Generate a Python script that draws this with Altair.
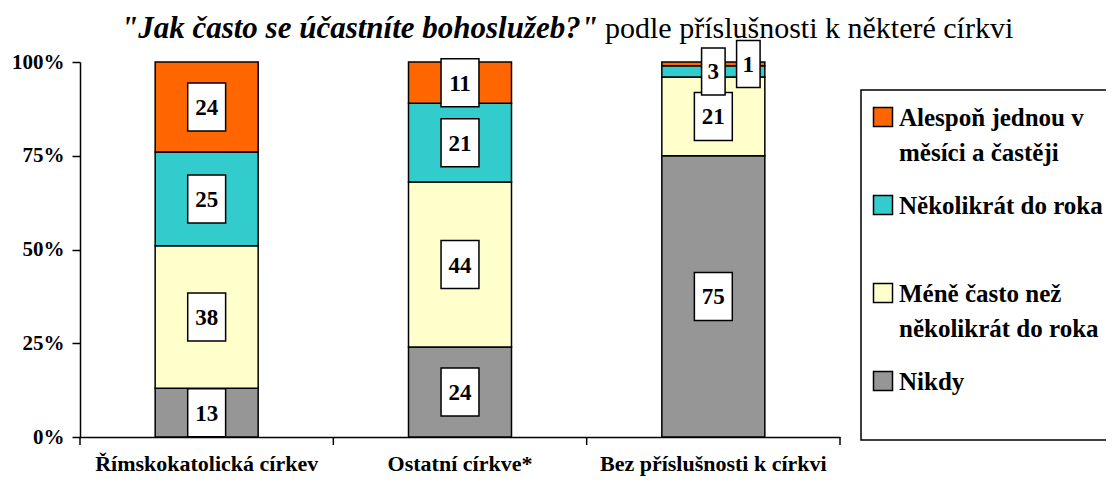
import altair as alt
import pandas as pd

# ---- data ----
groups = ["Římskokatolická církev", "Ostatní církve*", "Bez příslušnosti k církvi"]
answers = [  # bottom -> top of stack
    "Nikdy",
    "Méně často než několikrát do roka",
    "Několikrát do roka",
    "Alespoň jednou v měsíci a častěji",
]
nikdy = [13, 24, 75]
mene_casto = [38, 44, 21]
nekolikrat = [25, 21, 3]
alespon = [24, 11, 1]
series = [nikdy, mene_casto, nekolikrat, alespon]
colors = ["#969696", "#FFFFCC", "#33CCCC", "#FF6600"]
legend_lines = [
    ["Nikdy"],
    ["Méně často než", "několikrát do roka"],
    ["Několikrát do roka"],
    ["Alespoň jednou v", "měsíci a častěji"],
]
y_ticks = [0, 25, 50, 75, 100]
x_tick_positions = [0, 1, 2, 3]
title_question = "\"Jak často se účastníte bohoslužeb?\""
title_rest = "podle příslušnosti k některé církvi"

FONT = "Liberation Serif"

rows = []
for gi, g in enumerate(groups):
    base = 0
    for ai, a in enumerate(answers):
        v = series[ai][gi]
        rows.append(dict(group=g, answer=a, order=ai, value=v,
                         y0=base, y1=base + v, mid=base + v / 2,
                         gi=gi, ai=ai))
        base += v
df = pd.DataFrame(rows)

# legend tables (top -> bottom): row index and line index within the entry
leg_sq = []
leg_txt = []
for r, ai in enumerate(reversed(range(len(answers)))):
    lines = legend_lines[ai]
    leg_sq.append(dict(answer=answers[ai], row=r, line=0))
    for li, ln in enumerate(lines):
        leg_txt.append(dict(answer=answers[ai], row=r, line=li, label=ln))
leg_sq = pd.DataFrame(leg_sq)
leg_txt = pd.DataFrame(leg_txt)

LEG_TOP, ROW_STEP, LINE_STEP = 55, 88, 35
pos_expr = f"{LEG_TOP} + {ROW_STEP} * datum.row + {LINE_STEP} * datum.line"

color_scale = alt.Scale(domain=answers, range=colors)
yq = alt.Scale(domain=[0, 100], nice=False)
xband = alt.Scale(domain=groups)

base = alt.Chart(df)

bars = base.mark_bar(size=103, stroke="black", strokeWidth=1.5).encode(
    x=alt.X("group:N", scale=xband, sort=groups, title=None,
            axis=alt.Axis(ticks=False, labelAngle=0, labelPadding=16,
                          labelFontSize=22, labelLimit=400, domainWidth=1.5)),
    y=alt.Y("y0:Q", scale=yq, title=None,
            axis=alt.Axis(values=y_ticks, labelExpr="datum.value + '%'",
                          tickSize=8, tickWidth=1.5, domainWidth=1.5,
                          labelPadding=8, labelFontSize=21)),
    y2="y1:Q",
    color=alt.Color("answer:N", scale=color_scale, legend=None),
    order=alt.Order("order:Q"),
)

TWO = "M-0.79,-1H0.79V1H-0.79Z"
ONE = "M-0.5,-1H0.5V1H-0.5Z"

def box_layer(filt, shape, size, xoff=0):
    enc = dict(
        x=alt.X("group:N", scale=xband, sort=groups, axis=None),
        y=alt.Y("mid:Q", scale=yq, axis=None),
    )
    pts = base.transform_filter(filt).mark_point(
        shape=shape, size=size, filled=True, fill="white", stroke="black",
        strokeWidth=1.5, opacity=1, xOffset=xoff).encode(**enc)
    txt = base.transform_filter(filt).mark_text(
        font=FONT, fontSize=23, fontWeight="bold", color="black",
        baseline="middle", dy=1, xOffset=xoff).encode(text="value:Q", **enc)
    return pts + txt

two_digit = box_layer("datum.value >= 10", TWO, 2304)
one_digit = box_layer("datum.value < 10 && !(datum.gi == 2 && datum.ai == 3)", ONE, 2209)
one_digit_shift = box_layer("datum.gi == 2 && datum.ai == 3", ONE, 2209, xoff=35)

# x-axis tick marks at band boundaries
ticks_df = pd.DataFrame({"t": x_tick_positions})
xticks = alt.Chart(ticks_df).mark_rule(color="black", strokeWidth=1.5).encode(
    x=alt.X("t:Q", scale=alt.Scale(domain=[0, 3], nice=False), axis=None),
    y=alt.value(375), y2=alt.value(383),
)

# legend
frame = alt.Chart(pd.DataFrame({"a": [0]})).mark_rect(
    fill="white", stroke="black", strokeWidth=1.5).encode(
    x=alt.value(781), x2=alt.value(1040), y=alt.value(28), y2=alt.value(378))

leg_squares = alt.Chart(leg_sq).transform_calculate(pos=pos_expr).mark_square(
    size=361, opacity=1, stroke="black", strokeWidth=1.5).encode(
    x=alt.value(803),
    y=alt.Y("pos:Q", scale=None, axis=None),
    color=alt.Color("answer:N", scale=color_scale, legend=None),
)
leg_labels = alt.Chart(leg_txt).transform_calculate(pos=pos_expr).mark_text(
    font=FONT, fontSize=25, fontWeight="bold", color="black",
    align="left", baseline="middle", dy=1).encode(
    x=alt.value(819),
    y=alt.Y("pos:Q", scale=None, axis=None),
    text="label:N",
)

# title
t1 = alt.Chart(pd.DataFrame({"t": [title_question]})).mark_text(
    font=FONT, fontSize=31, fontWeight="bold", fontStyle="italic",
    color="black", align="right", baseline="alphabetic").encode(
    x=alt.value(518), y=alt.value(-24), text="t:N")
t2 = alt.Chart(pd.DataFrame({"t": [title_rest]})).mark_text(
    font=FONT, fontSize=30, color="black", align="left",
    baseline="alphabetic").encode(
    x=alt.value(525), y=alt.value(-24), text="t:N")

chart = alt.layer(
    bars, two_digit, one_digit, one_digit_shift, xticks,
    frame, leg_squares, leg_labels, t1, t2
).resolve_scale(x="independent", y="independent").properties(
    width=760, height=375,
    padding={"left": 72, "top": 54, "right": 266, "bottom": 41},
    autosize=alt.AutoSizeParams(type="none"),
).configure_view(stroke=None).configure_axis(
    grid=False, domainColor="black", tickColor="black", labelColor="black",
    labelFont=FONT, labelFontWeight="bold",
)

chart.save("out.html", embed_options={"renderer": "svg", "actions": False})
